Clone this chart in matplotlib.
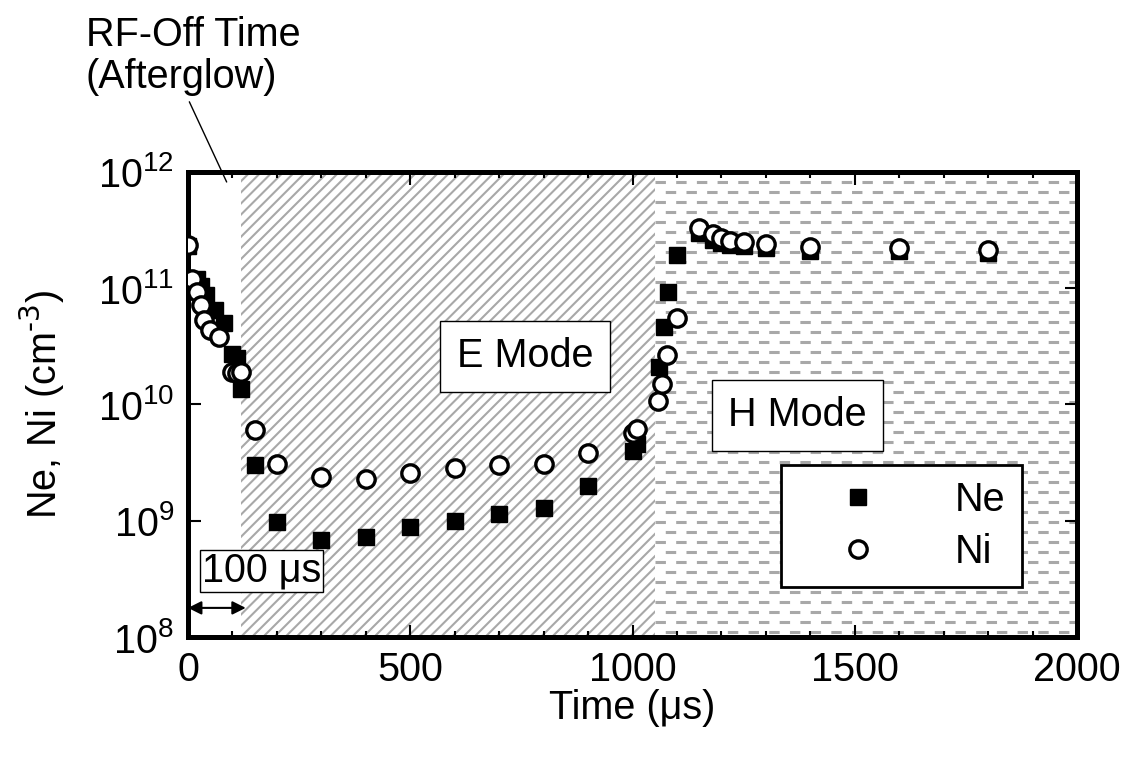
import numpy as np
import matplotlib
matplotlib.use('Agg')
import matplotlib.pyplot as plt
from matplotlib.ticker import MultipleLocator, LogLocator, NullLocator

plt.rcParams['font.family'] = ['Liberation Sans', 'DejaVu Sans']
plt.rcParams['font.size'] = 28.5
plt.rcParams['hatch.linewidth'] = 1.5
plt.rcParams['lines.scale_dashes'] = False

# data (time in us, density in cm^-3)
t_ne = [0, 20, 30, 40, 60, 80, 100, 110, 120,
        150, 200, 300, 400, 500, 600, 700, 800, 900, 1000, 1010,
        1060, 1070, 1080, 1100,
        1150, 1180, 1200, 1220, 1250, 1300, 1400, 1600, 1800]
ne = [2.3e11, 1.2e11, 1.05e11, 8.8e10, 6.5e10, 5.0e10, 2.7e10, 2.5e10, 1.35e10,
      3.0e9, 9.8e8, 6.8e8, 7.2e8, 8.8e8, 1.0e9, 1.15e9, 1.28e9, 2.0e9, 4.0e9, 4.6e9,
      2.1e10, 4.6e10, 9.2e10, 1.95e11,
      3.0e11, 2.6e11, 2.45e11, 2.35e11, 2.3e11, 2.2e11, 2.1e11, 2.08e11, 2.0e11]

t_ni = [0, 8, 20, 30, 36, 50, 70, 100, 110, 120,
        150, 200, 300, 400, 500, 600, 700, 800, 900, 1000, 1010,
        1057, 1067, 1078, 1100,
        1150, 1180, 1200, 1220, 1250, 1300, 1400, 1600, 1800]
ni = [2.35e11, 1.2e11, 9.2e10, 7.2e10, 5.3e10, 4.4e10, 3.8e10, 1.9e10, 1.85e10, 1.9e10,
      6.0e9, 3.1e9, 2.4e9, 2.3e9, 2.6e9, 2.85e9, 3.0e9, 3.05e9, 3.8e9, 5.7e9, 6.2e9,
      1.08e10, 1.5e10, 2.65e10, 5.5e10,
      3.3e11, 2.95e11, 2.7e11, 2.55e11, 2.48e11, 2.38e11, 2.28e11, 2.2e11, 2.15e11]

e_start, h_start, t_end = 120, 1050, 2000

fig = plt.figure(figsize=(11.29, 7.66), dpi=100)
ax = fig.add_axes([0.1665, 0.1684, 0.7875, 0.6071])
ax.set_yscale('log')
ax.set_xlim(0, 2000)
ax.set_ylim(1e8, 1e12)

# E mode region: diagonal hatch
ax.axvspan(e_start, h_start, facecolor='white', edgecolor='#a8a8a8', lw=0, hatch='///', zorder=0)

# H mode region: staggered dashes
trans = ax.get_xaxis_transform()
for i in range(47):
    yy = 1 - (i + 1) / 46.5
    if yy <= 0.005:
        break
    off = 0 if i % 2 == 0 else 7.5
    ax.plot([h_start, t_end], [yy, yy], transform=trans, color='#a8a8a8', lw=2.2,
            linestyle=(off, (7.5, 7.4)), dash_capstyle='butt', zorder=0)

ax.plot(t_ne, ne, 's', color='black', ms=11.5, ls='none', label='Ne', zorder=3)
ax.plot(t_ni, ni, 'o', mfc='white', mec='black', mew=2.4, ms=12.5, ls='none', label='Ni', zorder=4)

for s in ax.spines.values():
    s.set_linewidth(3.6)

ax.xaxis.set_major_locator(MultipleLocator(500))
ax.xaxis.set_minor_locator(MultipleLocator(100))
ax.yaxis.set_major_locator(LogLocator(base=10))
ax.yaxis.set_minor_locator(NullLocator())
ax.tick_params(which='both', direction='in', top=True, right=True, width=1.5)
ax.tick_params(which='major', length=9, pad=10)
ax.tick_params(which='minor', length=4.5)

ax.set_xlabel('Time (\u03bcs)', labelpad=0)
ax.set_ylabel('Ne, Ni (cm$^{\\text{-3}}$)', labelpad=22)

ax.text(758, 2.6e10, 'E Mode', ha='center', va='center',
        bbox=dict(boxstyle='square,pad=0.42', facecolor='white', edgecolor='black', lw=1), zorder=5)
ax.text(1371, 8.1e9, 'H Mode', ha='center', va='center',
        bbox=dict(boxstyle='square,pad=0.42', facecolor='white', edgecolor='black', lw=1), zorder=5)
ax.text(166, 3.7e8, '100 \u03bcs', ha='center', va='center',
        bbox=dict(boxstyle='square,pad=0.05', facecolor='white', edgecolor='black', lw=1), zorder=5)
ax.annotate('', xy=(0, 1.78e8), xytext=(130, 1.78e8),
            arrowprops=dict(arrowstyle='<|-|>', color='black', lw=1.5, mutation_scale=20,
                            shrinkA=0, shrinkB=0), zorder=5)

ax.annotate('RF-Off Time\n(Afterglow)', xy=(87, 8.2e11), xycoords='data',
            xytext=(86, 766 - 16), textcoords='figure pixels', ha='left', va='top',
            linespacing=1.15, annotation_clip=False,
            arrowprops=dict(arrowstyle='-', color='black', lw=1, shrinkA=2, shrinkB=0,
                            relpos=(0.47, 0.0)))

leg = ax.legend(loc='lower left', bbox_to_anchor=(781 / 1129, (766 - 587) / 766),
                bbox_transform=fig.transFigure, frameon=True, fancybox=False, framealpha=1,
                facecolor='white', handlelength=3.1, handletextpad=0.9, labelspacing=0.35,
                borderpad=0.4, borderaxespad=0, markerscale=1.0)
leg.get_frame().set_edgecolor('black')
leg.get_frame().set_linewidth(2)
leg.set_zorder(6)

fig.savefig('out.png', dpi=100)
